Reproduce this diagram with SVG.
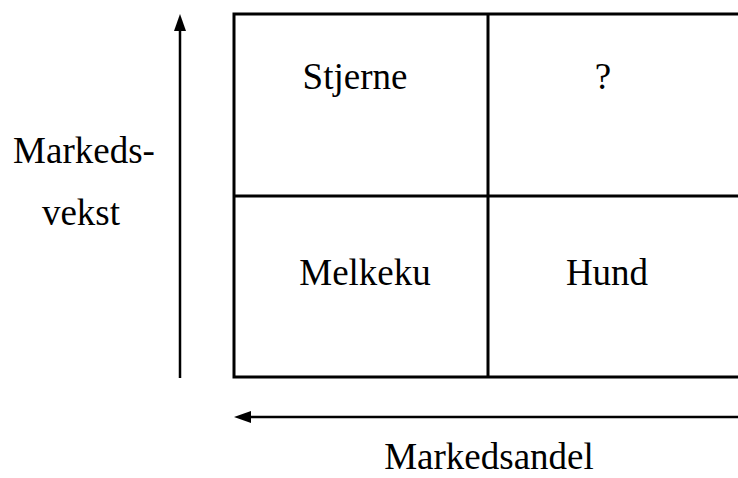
<svg xmlns="http://www.w3.org/2000/svg" width="738" height="478" viewBox="0 0 738 478">
<defs>
<style>
text{font-family:"Liberation Serif","Times New Roman",serif;font-size:37px;fill:#000;text-anchor:middle}
.grid{stroke:#000;stroke-width:3;fill:none}
.axis{stroke:#000;stroke-width:2.5;fill:none}
</style>
</defs>
<rect width="738" height="478" fill="#fff"/>
<g id="grid">
<path class="grid" d="M738,14 H234 V377 H738 M488,14 V377 M234,196 H738"/>
</g>
<g id="connectors">
<path class="axis" d="M180,378 V30"/>
<path d="M180,14 L186,31 L174,31 z" fill="#000"/>
<path class="axis" d="M738,417 H250"/>
<path d="M234,417 L251,411 L251,423 z" fill="#000"/>
</g>
<g id="stjerne"><text x="355" y="89">Stjerne</text></g>
<g id="sporsmal"><text x="603" y="89">?</text></g>
<g id="melkeku"><text x="365" y="285">Melkeku</text></g>
<g id="hund"><text x="607" y="285">Hund</text></g>
<g id="markedsvekst"><text x="84" y="163">Markeds-</text><text x="81" y="225">vekst</text></g>
<g id="markedsandel"><text x="489" y="469">Markedsandel</text></g>
</svg>
